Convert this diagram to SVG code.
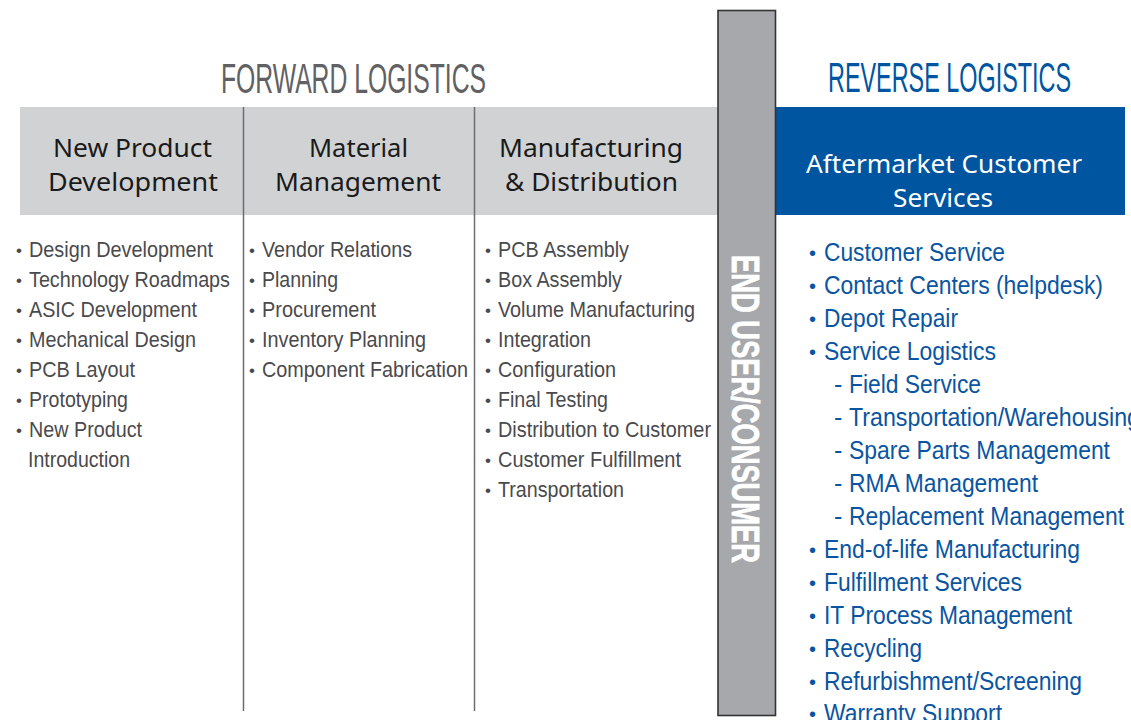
<svg xmlns="http://www.w3.org/2000/svg" width="1131" height="720" viewBox="0 0 1131 720">
<style>
.title{font-family:"Liberation Sans",Arial,sans-serif;font-size:42px;text-anchor:middle}
.hd{font-family:"Noto Sans","Open Sans",sans-serif;font-size:26px;text-anchor:middle;fill:#1a1a1a}
.hdw{font-family:"Noto Sans","Open Sans",sans-serif;font-size:26px;text-anchor:middle;fill:#ffffff}
.li{font-family:"Liberation Sans",Arial,sans-serif;font-size:22px;fill:#4a4a4c}
.ri{font-family:"Liberation Sans",Arial,sans-serif;font-size:25px;fill:#0a55a2}
.bl{font-size:17px}
.br{font-size:20px}
.div{stroke:#6d6e70;stroke-width:1.5}
</style>
<rect width="1131" height="720" fill="#ffffff"/>

<g id="forward-title">
<text class="title" x="353.5" y="93" textLength="265" lengthAdjust="spacingAndGlyphs" fill="#616163">FORWARD LOGISTICS</text>
</g>
<g id="reverse-title">
<text class="title" x="949.5" y="92" textLength="243" lengthAdjust="spacingAndGlyphs" fill="#0055a0">REVERSE LOGISTICS</text>
</g>

<rect x="20" y="107" width="698" height="108" fill="#d1d2d4"/>
<rect x="776" y="107" width="349" height="108" fill="#0055a0"/>

<g id="dividers">
<line class="div" x1="243.5" y1="107" x2="243.5" y2="711"/>
<line class="div" x1="474.5" y1="107" x2="474.5" y2="711"/>
</g>

<g id="new-product-development">
<text class="hd" x="132.5" y="157" textLength="159" lengthAdjust="spacingAndGlyphs">New Product</text>
<text class="hd" x="133" y="191" textLength="170" lengthAdjust="spacingAndGlyphs">Development</text>
<g class="li">
<text class="bl" x="16" y="255.5">•</text><text x="29" y="257" textLength="184" lengthAdjust="spacingAndGlyphs">Design Development</text>
<text class="bl" x="16" y="285.5">•</text><text x="29" y="287" textLength="201" lengthAdjust="spacingAndGlyphs">Technology Roadmaps</text>
<text class="bl" x="16" y="315.5">•</text><text x="29" y="317" textLength="168" lengthAdjust="spacingAndGlyphs">ASIC Development</text>
<text class="bl" x="16" y="345.5">•</text><text x="29" y="347" textLength="167" lengthAdjust="spacingAndGlyphs">Mechanical Design</text>
<text class="bl" x="16" y="375.5">•</text><text x="29" y="377" textLength="106" lengthAdjust="spacingAndGlyphs">PCB Layout</text>
<text class="bl" x="16" y="405.5">•</text><text x="29" y="407" textLength="99" lengthAdjust="spacingAndGlyphs">Prototyping</text>
<text class="bl" x="16" y="435.5">•</text><text x="29" y="437" textLength="113" lengthAdjust="spacingAndGlyphs">New Product</text>
<text x="28" y="467" textLength="102" lengthAdjust="spacingAndGlyphs">Introduction</text>
</g>
</g>

<g id="material-management">
<text class="hd" x="358.5" y="157" textLength="99" lengthAdjust="spacingAndGlyphs">Material</text>
<text class="hd" x="358" y="191" textLength="166" lengthAdjust="spacingAndGlyphs">Management</text>
<g class="li">
<text class="bl" x="249" y="255.5">•</text><text x="262" y="257" textLength="150" lengthAdjust="spacingAndGlyphs">Vendor Relations</text>
<text class="bl" x="249" y="285.5">•</text><text x="262" y="287" textLength="76" lengthAdjust="spacingAndGlyphs">Planning</text>
<text class="bl" x="249" y="315.5">•</text><text x="262" y="317" textLength="114" lengthAdjust="spacingAndGlyphs">Procurement</text>
<text class="bl" x="249" y="345.5">•</text><text x="262" y="347" textLength="164" lengthAdjust="spacingAndGlyphs">Inventory Planning</text>
<text class="bl" x="249" y="375.5">•</text><text x="262" y="377" textLength="206" lengthAdjust="spacingAndGlyphs">Component Fabrication</text>
</g>
</g>

<g id="manufacturing-distribution">
<text class="hd" x="591" y="157" textLength="184" lengthAdjust="spacingAndGlyphs">Manufacturing</text>
<text class="hd" x="591.5" y="191" textLength="173" lengthAdjust="spacingAndGlyphs">&amp; Distribution</text>
<g class="li">
<text class="bl" x="485" y="255.5">•</text><text x="498" y="257" textLength="131" lengthAdjust="spacingAndGlyphs">PCB Assembly</text>
<text class="bl" x="485" y="285.5">•</text><text x="498" y="287" textLength="124" lengthAdjust="spacingAndGlyphs">Box Assembly</text>
<text class="bl" x="485" y="315.5">•</text><text x="498" y="317" textLength="197" lengthAdjust="spacingAndGlyphs">Volume Manufacturing</text>
<text class="bl" x="485" y="345.5">•</text><text x="498" y="347" textLength="93" lengthAdjust="spacingAndGlyphs">Integration</text>
<text class="bl" x="485" y="375.5">•</text><text x="498" y="377" textLength="118" lengthAdjust="spacingAndGlyphs">Configuration</text>
<text class="bl" x="485" y="405.5">•</text><text x="498" y="407" textLength="110" lengthAdjust="spacingAndGlyphs">Final Testing</text>
<text class="bl" x="485" y="435.5">•</text><text x="498" y="437" textLength="213" lengthAdjust="spacingAndGlyphs">Distribution to Customer</text>
<text class="bl" x="485" y="465.5">•</text><text x="498" y="467" textLength="183" lengthAdjust="spacingAndGlyphs">Customer Fulfillment</text>
<text class="bl" x="485" y="495.5">•</text><text x="498" y="497" textLength="126" lengthAdjust="spacingAndGlyphs">Transportation</text>
</g>
</g>

<g id="end-user-consumer">
<rect x="718" y="10.5" width="57.5" height="705" fill="#a7a8ab" stroke="#333333" stroke-width="1.6"/>
<text transform="translate(732,255) rotate(90)" x="0" y="0" font-family="'Liberation Sans',Arial,sans-serif" font-weight="bold" font-size="39" fill="#ffffff" stroke="#ffffff" stroke-width="0.8" textLength="308" lengthAdjust="spacingAndGlyphs">END USER/CONSUMER</text>
</g>

<g id="aftermarket-customer-services">
<text class="hdw" x="944" y="173" textLength="276" lengthAdjust="spacingAndGlyphs">Aftermarket Customer</text>
<text class="hdw" x="943" y="207" textLength="100" lengthAdjust="spacingAndGlyphs">Services</text>
<g class="ri">
<text class="br" x="809" y="259.5">•</text><text x="824" y="261" textLength="181" lengthAdjust="spacingAndGlyphs">Customer Service</text>
<text class="br" x="809" y="292.5">•</text><text x="824" y="294" textLength="279" lengthAdjust="spacingAndGlyphs">Contact Centers (helpdesk)</text>
<text class="br" x="809" y="325.5">•</text><text x="824" y="327" textLength="134" lengthAdjust="spacingAndGlyphs">Depot Repair</text>
<text class="br" x="809" y="358.5">•</text><text x="824" y="360" textLength="172" lengthAdjust="spacingAndGlyphs">Service Logistics</text>
<text x="834" y="393">-</text><text x="849" y="393" textLength="132" lengthAdjust="spacingAndGlyphs">Field Service</text>
<text x="834" y="426">-</text><text x="849" y="426" textLength="291" lengthAdjust="spacingAndGlyphs">Transportation/Warehousing</text>
<text x="834" y="459">-</text><text x="849" y="459" textLength="261" lengthAdjust="spacingAndGlyphs">Spare Parts Management</text>
<text x="834" y="492">-</text><text x="849" y="492" textLength="189" lengthAdjust="spacingAndGlyphs">RMA Management</text>
<text x="834" y="525">-</text><text x="849" y="525" textLength="275" lengthAdjust="spacingAndGlyphs">Replacement Management</text>
<text class="br" x="809" y="556.5">•</text><text x="824" y="558" textLength="256" lengthAdjust="spacingAndGlyphs">End-of-life Manufacturing</text>
<text class="br" x="809" y="589.5">•</text><text x="824" y="591" textLength="198" lengthAdjust="spacingAndGlyphs">Fulfillment Services</text>
<text class="br" x="809" y="622.5">•</text><text x="824" y="624" textLength="248" lengthAdjust="spacingAndGlyphs">IT Process Management</text>
<text class="br" x="809" y="655.5">•</text><text x="824" y="657" textLength="98" lengthAdjust="spacingAndGlyphs">Recycling</text>
<text class="br" x="809" y="688.5">•</text><text x="824" y="690" textLength="258" lengthAdjust="spacingAndGlyphs">Refurbishment/Screening</text>
<text class="br" x="809" y="720.5">•</text><text x="824" y="722" textLength="178" lengthAdjust="spacingAndGlyphs">Warranty Support</text>
</g>
</g>
</svg>
